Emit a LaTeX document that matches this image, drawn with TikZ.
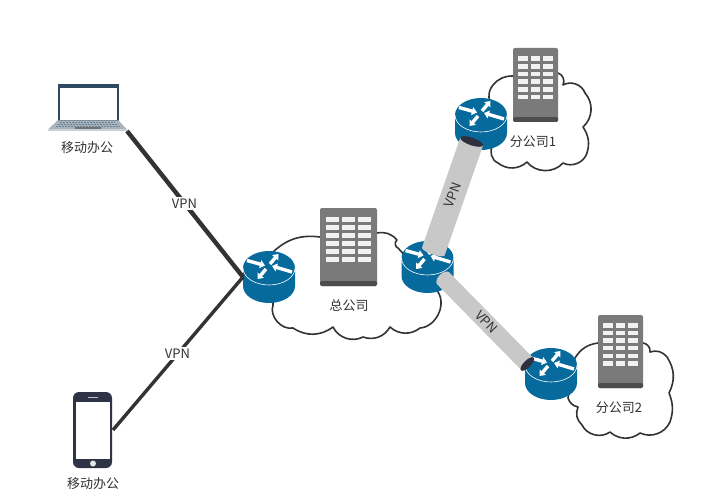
\documentclass[tikz,border=0pt]{standalone}
\usepackage{fontspec}
\setmainfont{Noto Sans CJK SC}
\usetikzlibrary{arrows.meta}
\definecolor{ink}{HTML}{333333}
\definecolor{rblue}{HTML}{076A9D}
\definecolor{bgray}{HTML}{7A7A7A}
\definecolor{bdark}{HTML}{4C4C4C}
\definecolor{tubegray}{HTML}{C8C8C8}
\definecolor{tubeend}{HTML}{2E3040}
\definecolor{lapedge}{HTML}{2F4A60}
\definecolor{lapbase}{HTML}{A8B4BD}
\definecolor{phonec}{HTML}{2E3345}
\tikzset{
  x=1pt,y=-1pt,
  lbl/.style={font=\fontsize{13}{15}\selectfont,text=ink,inner sep=0},
  cloudline/.style={draw=ink,line width=1.6,fill=white,line join=round},
  vpnlink/.style={draw=ink,line join=miter,miter limit=10},
  tube/.style={draw=tubegray,line width=24},
  warrow/.style={draw=white,line width=3.4,-{Triangle[length=5,width=8]}},
}
\newcommand{\routerat}[3]{%
  \begin{scope}[shift={(#2,#3)}]
    \fill[rblue] (-26,0) -- (-26,18) arc[start angle=180,end angle=360,x radius=26pt,y radius=17pt] -- (26,0) arc[start angle=0,end angle=180,x radius=26pt,y radius=17pt] -- cycle;
    \draw[white,line width=.6] (-26,0) arc[start angle=180,end angle=360,x radius=26pt,y radius=17pt];
    \draw[warrow] (-22,-7.5) -- (-4,-2.5);
    \draw[warrow] (1,-4) -- (9.5,-14);
    \draw[warrow] (23,4) -- (3,-2);
    \draw[warrow] (-3,1) -- (-11.5,11);
  \end{scope}
  \node[minimum width=52pt,minimum height=52pt,inner sep=0] (#1) at (#2,#3+9) {};
}
% building: name, left, top, width, height
\newcommand{\buildingat}[5]{%
  \fill[bgray,rounded corners=2pt] (#2,#3) rectangle ++(#4,#5);
  \fill[bdark,rounded corners=1.5pt] (#2,#3+#5-5) rectangle ++(#4,5);
  \fill[bgray] (#2,#3+#5-7) rectangle ++(#4,2);
  \foreach \c in {0,1,2}{\foreach \r in {0,...,5}{
    \fill[white!95!black] ({#2+#4*(0.112+0.28*\c)},{#3+#5*(0.112+0.104*\r)}) rectangle ++({#4*0.215},{#5*0.062});
  }}
  \node[minimum width=#4 pt,minimum height=#5 pt,inner sep=0] (#1) at (#2+#4/2,#3+#5/2) {};
}
\begin{document}
\begin{tikzpicture}
\useasboundingbox (0,0) rectangle (707,500);
\fill[white] (0,0) rectangle (707,500);

% ---- clouds
\path[cloudline] (320,237) to[bend right=25] (273,252) -- (273,305)
  to[bend right=60] (293,328) to[bend right=35] (333,327) to[bend right=45] (363,337)
  to[bend right=40] (390,327) to[bend right=40] (420,328) to[bend right=60] (438,292)
  -- (398,248) to[bend left=70] (397,240) to[bend right=30] (377,233) -- cycle;
\path[cloudline] (513,76) to[bend right=25] (493,85) to[bend right=20] (489,97) -- (493,145)
  to[bend right=50] (498,163) to[bend right=40] (527,162) to[bend right=50] (563,163)
  to[bend right=50] (587,153) to[bend right=25] (583,127) to[bend right=45] (585,93)
  to[bend right=50] (563,85) to[bend right=50] (558,73) -- cycle;
\path[cloudline] (598,343) to[bend right=25] (575,358) -- (568,398)
  to[bend right=30] (578,407) to[bend right=35] (582,425) to[bend right=50] (610,432)
  to[bend right=40] (640,433) to[bend right=45] (670,422) to[bend right=20] (669,393)
  to[bend right=30] (667,357) to[bend right=35] (650,352) to[bend right=45] (643,343) -- cycle;

% ---- buildings
\buildingat{hq}{320}{208}{57}{78}
\buildingat{b1}{513}{48}{45}{74}
\buildingat{b2}{598}{315}{45}{73}

% ---- laptop
\node[minimum width=80pt,minimum height=47pt,inner sep=0] (laptop) at (88,107.5) {};
\fill[lapedge] (57.5,84) rectangle (118.5,122);
\fill[white] (59.5,88) rectangle (116.5,120);
\fill[lapbase] (57.5,120.5) -- (118.5,120.5) -- (127,129.5) -- (48,129.5) -- cycle;
\fill[lapbase!60!white] (48,129.5) rectangle (127,131.5);
\foreach \yy/\xa/\xb in {122/60/115,124/58/118,126/56/120}{
  \draw[lapedge!70!white,line width=.9,dash pattern=on 2pt off 1pt] (\xa,\yy) -- (\xb,\yy);
}
\fill[gray!90!black] (75,127.3) rectangle (101,129.3);

% ---- phone
\node[minimum width=39pt,minimum height=76pt,inner sep=0] (phone) at (92.5,430) {};
\fill[phonec,rounded corners=6pt] (73,392) rectangle (112,468);
\fill[white] (76,402) rectangle (110,459);
\fill[white!90!black] (93,463.5) circle (3pt);
\fill[white!75!black] (88,396.5) rectangle (98,397.8);

% ---- routers
\routerat{r0}{269}{268}
\routerat{rc}{427.5}{258}
\routerat{r1}{481}{115}
\routerat{r2}{551}{365}

% ---- connector ends
\coordinate (hub) at (243,277);
\coordinate (lapEnd) at (127,131);
\coordinate (phoneEnd) at (113,430);
\coordinate (t1a) at (433.3,251.5);
\coordinate (t1b) at (471.7,141.5);
\coordinate (t2a) at (443.3,278.5);
\coordinate (t2b) at (527.3,364);

% ---- VPN lines
\draw[vpnlink,line width=4.4] (lapEnd) -- (hub);
\draw[vpnlink,line width=3.4] (phoneEnd) -- (hub);
\node[lbl,fill=white,inner sep=1.5pt] (vpn1) at (184.5,203.5) {VPN};
\node[lbl,fill=white,inner sep=1.5pt] (vpn2) at (177.5,353.5) {VPN};

% ---- tubes
\draw[tube] (t1a) -- (t1b);
\fill[tubegray,shift={(t1a)},rotate=-19] (0,0) ellipse[x radius=12pt,y radius=3pt];
\fill[tubeend,shift={(t1b)},rotate=-19] (0,0) ellipse[x radius=12pt,y radius=3.8pt];
\draw[tube,line width=17] (t2a) -- (t2b);
\fill[tubegray,shift={(t2a)},rotate=45] (0,0) ellipse[x radius=8.5pt,y radius=5pt];
\fill[tubeend,shift={(t2b)},rotate=45] (0,0) ellipse[x radius=9pt,y radius=3.5pt];
\node[lbl,rotate=70] (vpn3) at (452.5,195) {VPN};
\node[lbl,rotate=-46] (vpn4) at (486.5,322) {VPN};

% ---- labels
\node[lbl] (l1) at (87,147.5) {移动办公};
\node[lbl] (l2) at (93,483.5) {移动办公};
\node[lbl] (l3) at (349,306) {总公司};
\node[lbl] (l4) at (533,142) {分公司1};
\node[lbl] (l5) at (619,408) {分公司2};
\end{tikzpicture}
\end{document}
